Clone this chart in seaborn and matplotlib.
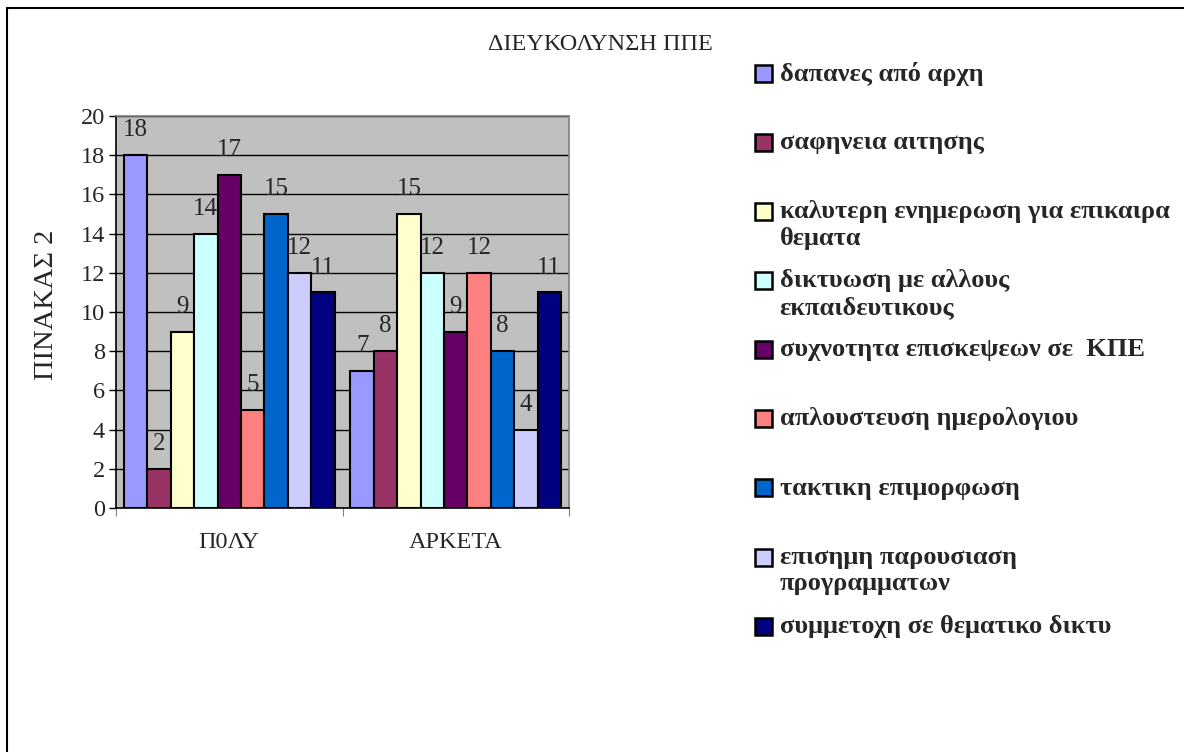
import pandas as pd
import matplotlib.pyplot as plt
import seaborn as sns
from matplotlib.lines import Line2D
from matplotlib.patches import Patch, Rectangle
from matplotlib.legend_handler import HandlerPatch

# Chart data
categories = ['Π0ΛΥ', 'ΑΡΚΕΤΑ']
series = [
    'δαπανες από αρχη',
    'σαφηνεια αιτησης',
    'καλυτερη ενημερωση για επικαιρα\nθεματα',
    'δικτυωση με αλλους\nεκπαιδευτικους',
    'συχνοτητα επισκεψεων σε  ΚΠΕ',
    'απλουστευση ημερολογιου',
    'τακτικη επιμορφωση',
    'επισημη παρουσιαση\nπρογραμματων',
    'συμμετοχη σε θεματικο δικτυ',
]
values_poly = [18, 2, 9, 14, 17, 5, 15, 12, 11]
values_arketa = [7, 8, 15, 12, 9, 12, 8, 4, 11]
colors = ['#9999FF', '#993366', '#FFFFCC', '#CCFFFF', '#660066',
          '#FF8080', '#0066CC', '#CCCCFF', '#000080']

rows = []
for s, a, b in zip(series, values_poly, values_arketa):
    rows.append({'cat': categories[0], 'series': s, 'value': a})
    rows.append({'cat': categories[1], 'series': s, 'value': b})
df = pd.DataFrame(rows)


# small square legend key at the top of its (tall) row, next to the first text line
class SquareHandler(HandlerPatch):
    def create_artists(self, legend, orig_handle, xdescent, ydescent,
                       width, height, fontsize, trans):
        size = 0.64 * fontsize
        top = height - ydescent
        yc = top - 0.43 * fontsize
        p = Rectangle((-xdescent, yc - size / 2), size, size,
                      facecolor=orig_handle.get_facecolor(),
                      edgecolor='black', linewidth=1.8, transform=trans)
        return [p]


sns.set_style('white')
plt.rcParams['font.family'] = ['Liberation Serif', 'DejaVu Serif']

fig = plt.figure(figsize=(11.84, 7.52), dpi=100)
ax = fig.add_axes([116 / 1184, 1 - 508 / 752, 453 / 1184, 392 / 752])
ax.set_facecolor('#C0C0C0')

sns.barplot(data=df, x='cat', y='value', hue='series', order=categories,
            hue_order=series, palette=colors, saturation=1, width=0.93,
            edgecolor='black', linewidth=1.5, ax=ax, legend=False)

for cont in ax.containers:
    ax.bar_label(cont, padding=10, fontsize=18)

ax.set_ylim(0, 20)
ax.set_xlim(-0.5, 1.5)
ax.set_yticks(range(0, 21, 2))
ax.yaxis.grid(True, color='black', linewidth=1)
ax.set_axisbelow(True)
ax.tick_params(axis='y', direction='out', length=5, width=1, color='black',
               labelsize=17.5, left=True, pad=3)

# category boundaries as major ticks, names as minor ticks
ax.set_xticks([-0.5, 0.5, 1.5])
ax.set_xticklabels(['', '', ''])
ax.set_xticks([0, 1], minor=True)
ax.set_xticklabels(categories, minor=True)
ax.tick_params(axis='x', which='major', direction='out', length=6,
               color='#808080', bottom=True)
ax.tick_params(axis='x', which='minor', length=0, labelsize=17.5, pad=17)
ax.set_xlabel('')
ax.set_ylabel('')

for side in ['left', 'bottom']:
    ax.spines[side].set_color('black')
    ax.spines[side].set_linewidth(1.2)
for side in ['top', 'right']:
    ax.spines[side].set_color('#808080')
    ax.spines[side].set_linewidth(1.2)

handles = [Patch(facecolor=c, edgecolor='black', label=s)
           for s, c in zip(series, colors)]
leg = fig.legend(handles=handles, loc='upper left',
                 bbox_to_anchor=(731 / 1184, 1 - 38 / 752), frameon=False,
                 prop={'weight': 'bold', 'size': 19}, handlelength=0.64,
                 handleheight=2.9, handletextpad=0.3, labelspacing=0.49,
                 handler_map={Patch: SquareHandler()})
# top-align key and text so wrapped labels hang downwards like in Excel
for col in leg._legend_handle_box.get_children():
    for item in col.get_children():
        item.align = 'top'

fig.text(600 / 1184, 1 - 45 / 752, 'ΔΙΕΥΚΟΛΥΝΣΗ ΠΠΕ', ha='center',
         va='center', fontsize=17.5)
fig.text(47 / 1184, 1 - 305 / 752, 'ΠΙΝΑΚΑΣ 2', ha='center', va='center',
         rotation=90, fontsize=20.5)

# chart area border (top and left edges visible)
fig.add_artist(Line2D([7 / 1184, 1.01], [1 - 8 / 752, 1 - 8 / 752],
                      transform=fig.transFigure, color='black', linewidth=1.5))
fig.add_artist(Line2D([7 / 1184, 7 / 1184], [1 - 8 / 752, -0.01],
                      transform=fig.transFigure, color='black', linewidth=1.5))

fig.savefig('out.png', dpi=100)
